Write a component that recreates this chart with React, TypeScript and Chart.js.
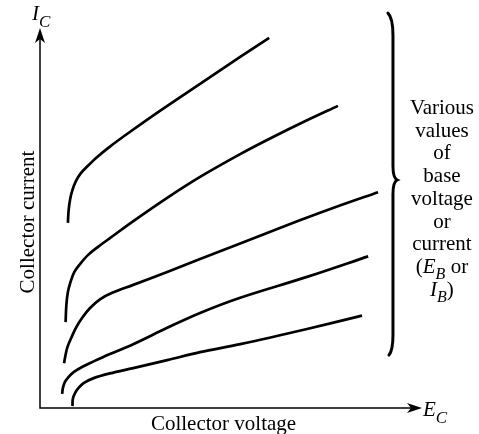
import React, { useEffect, useRef } from "react";
import { Chart, registerables } from "chart.js";

Chart.register(...registerables);

// Collector voltage (x) and collector current (y), arbitrary units 0..10
const curve1X = [0.73, 0.75, 0.79, 0.85, 0.94, 1.07, 1.26, 1.49, 1.83, 2.36, 3.14, 4.19, 5.24, 6.0];
const curve1Y = [4.87, 5.21, 5.5, 5.74, 5.97, 6.18, 6.38, 6.6, 6.88, 7.27, 7.82, 8.53, 9.24, 9.74];

const curve2X = [0.67, 0.69, 0.73, 0.8, 0.9, 1.05, 1.26, 1.52, 1.83, 2.49, 3.33, 4.19, 5.24, 6.1, 6.99, 7.8];
const curve2Y = [2.26, 2.71, 3.05, 3.32, 3.58, 3.79, 4.03, 4.24, 4.47, 4.95, 5.53, 6.08, 6.68, 7.13, 7.57, 7.95];

const curve3X = [0.63, 0.67, 0.72, 0.83, 0.94, 1.1, 1.31, 1.57, 1.89, 2.44, 3.33, 4.19, 5.24, 6.75, 7.85, 8.85];
const curve3Y = [1.18, 1.4, 1.61, 1.87, 2.11, 2.37, 2.63, 2.86, 3.03, 3.24, 3.58, 3.92, 4.33, 4.92, 5.33, 5.68];

const curve4X = [0.58, 0.6, 0.65, 0.75, 0.89, 1.1, 1.39, 1.83, 2.44, 3.33, 4.19, 5.24, 6.99, 8.59];
const curve4Y = [0.37, 0.53, 0.68, 0.82, 0.95, 1.08, 1.22, 1.42, 1.68, 2.11, 2.5, 2.9, 3.45, 3.99];

const curve5X = [0.85, 0.86, 0.92, 1.01, 1.15, 1.39, 1.83, 2.44, 3.33, 4.19, 5.24, 6.99, 8.43];
const curve5Y = [0.05, 0.24, 0.4, 0.53, 0.66, 0.78, 0.91, 1.05, 1.26, 1.47, 1.68, 2.08, 2.43];

const curvesX = [curve1X, curve2X, curve3X, curve4X, curve5X];
const curvesY = [curve1Y, curve2Y, curve3Y, curve4Y, curve5Y];

const xAxisTitle = "Collector voltage";
const yAxisTitle = "Collector current";
const xAxisSymbol = ["E", "C"];
const yAxisSymbol = ["I", "C"];

// brace span in data units (x, tip x) and (top, tip, bottom)
const braceX = [9.24, 9.35];
const braceY = [10.39, 6.0, 1.39];

const braceTextLines = ["Various", "values", "of", "base", "voltage", "or", "current"];

const SERIF = '"Liberation Serif", "DejaVu Serif", serif';
const FS = 21;

type Seg = { t: string; italic?: boolean; sub?: boolean };

function drawRich(
  ctx: CanvasRenderingContext2D,
  segs: Seg[],
  cx: number,
  y: number,
  size: number,
  align: "center" | "left",
  subRatio = 0.76,
  subShift = 0.3
) {
  const subSize = Math.round(size * subRatio);
  const fontFor = (s: Seg) => `${s.italic ? "italic " : ""}${s.sub ? subSize : size}px ${SERIF}`;
  let total = 0;
  const widths = segs.map((s) => {
    ctx.font = fontFor(s);
    const w = ctx.measureText(s.t).width;
    total += w;
    return w;
  });
  let x = align === "center" ? cx - total / 2 : cx;
  ctx.textAlign = "left";
  ctx.textBaseline = "alphabetic";
  segs.forEach((s, i) => {
    ctx.font = fontFor(s);
    ctx.fillText(s.t, x, s.sub ? y + size * subShift : y);
    x += widths[i];
  });
}

function arrowHead(ctx: CanvasRenderingContext2D, tx: number, ty: number, dir: "up" | "right") {
  const L = 15, W = 5, back = 4;
  ctx.save();
  ctx.translate(tx, ty);
  if (dir === "right") ctx.rotate(Math.PI / 2);
  ctx.beginPath();
  ctx.moveTo(0, 0);
  ctx.lineTo(-W, L);
  ctx.lineTo(0, L - back);
  ctx.lineTo(W, L);
  ctx.closePath();
  ctx.fillStyle = "#000";
  ctx.fill();
  ctx.restore();
}

const decorPlugin = {
  id: "decor",
  afterDraw(chart: any) {
    const ctx: CanvasRenderingContext2D = chart.ctx;
    const { left, right, top, bottom } = chart.chartArea;
    const xs = chart.scales.x;
    const ys = chart.scales.y;
    ctx.save();
    ctx.strokeStyle = "#000";
    ctx.fillStyle = "#000";
    ctx.lineWidth = 1.5;
    // axes
    ctx.beginPath();
    ctx.moveTo(left, top + 6);
    ctx.lineTo(left, bottom);
    ctx.lineTo(right - 6, bottom);
    ctx.stroke();
    arrowHead(ctx, left, top, "up");
    arrowHead(ctx, right, bottom, "right");

    // axis symbols
    drawRich(ctx, [{ t: yAxisSymbol[0], italic: true }, { t: yAxisSymbol[1], italic: true, sub: true }], left - 8, top - 8, 21, "left", 0.8, 0.33);
    drawRich(ctx, [{ t: xAxisSymbol[0], italic: true }, { t: xAxisSymbol[1], italic: true, sub: true }], right + 1, bottom + 8, 21, "left", 0.8, 0.33);

    // axis titles
    ctx.font = `${FS}px ${SERIF}`;
    ctx.textAlign = "center";
    ctx.textBaseline = "alphabetic";
    ctx.fillText(xAxisTitle, (left + right) / 2 - 7.5, bottom + 22);
    ctx.save();
    ctx.translate(left - 6, (top + bottom) / 2 + 4);
    ctx.rotate(-Math.PI / 2);
    ctx.fillText(yAxisTitle, 0, 0);
    ctx.restore();

    // brace
    const bx = xs.getPixelForValue(braceX[0]);
    const tipX = xs.getPixelForValue(braceX[1]);
    const bTop = ys.getPixelForValue(braceY[0]);
    const bMid = ys.getPixelForValue(braceY[1]);
    const bBot = ys.getPixelForValue(braceY[2]);
    ctx.lineWidth = 3;
    ctx.lineCap = "round";
    ctx.beginPath();
    ctx.moveTo(bx - 5, bTop);
    ctx.quadraticCurveTo(bx, bTop + 5, bx, bTop + 22);
    ctx.lineTo(bx, bMid - 14);
    ctx.quadraticCurveTo(bx, bMid - 2, tipX, bMid);
    ctx.quadraticCurveTo(bx, bMid + 2, bx, bMid + 14);
    ctx.lineTo(bx, bBot - 20);
    ctx.quadraticCurveTo(bx, bBot - 5, bx - 4, bBot);
    ctx.stroke();

    // brace text
    const tx = bx + 49;
    const y0 = 114;
    const lh = 22.7;
    ctx.font = `${FS}px ${SERIF}`;
    ctx.textAlign = "center";
    braceTextLines.forEach((s, i) => ctx.fillText(s, tx, y0 + i * lh));
    const n = braceTextLines.length;
    drawRich(ctx, [{ t: "(" }, { t: "E", italic: true }, { t: "B", italic: true, sub: true }, { t: " or" }], tx, y0 + n * lh, FS, "center");
    drawRich(ctx, [{ t: "I", italic: true }, { t: "B", italic: true, sub: true }, { t: ")" }], tx, y0 + (n + 1) * lh, FS, "center");
    ctx.restore();
  },
};

export default function App() {
  const ref = useRef<HTMLCanvasElement>(null);
  useEffect(() => {
    if (!ref.current) return;
    const datasets = curvesX.map((xsArr, i) => ({
      label: `Curve ${i + 1}`,
      data: xsArr.map((x, j) => ({ x, y: curvesY[i][j] })),
      showLine: true,
      borderColor: "#000",
      backgroundColor: "#000",
      borderWidth: 2.7,
      pointRadius: 0,
      fill: false,
      tension: 0.35,
      borderCapStyle: "butt" as const,
      borderJoinStyle: "round" as const,
    }));
    const chart = new Chart(ref.current, {
      type: "scatter",
      data: { datasets },
      options: {
        animation: false,
        responsive: false,
        devicePixelRatio: 1,
        layout: { padding: { left: 40, right: 57, top: 28, bottom: 26 } },
        scales: {
          x: { type: "linear", min: 0, max: 10, display: false },
          y: { type: "linear", min: 0, max: 10, display: false },
        },
        plugins: { legend: { display: false }, tooltip: { enabled: false } },
      },
      plugins: [decorPlugin],
    });
    return () => chart.destroy();
  }, []);
  return (
    <div style={{ position: "fixed", left: 0, top: 0, width: 479, height: 434, background: "#fff" }}>
      <canvas ref={ref} width={479} height={434} style={{ display: "block" }} />
    </div>
  );
}
